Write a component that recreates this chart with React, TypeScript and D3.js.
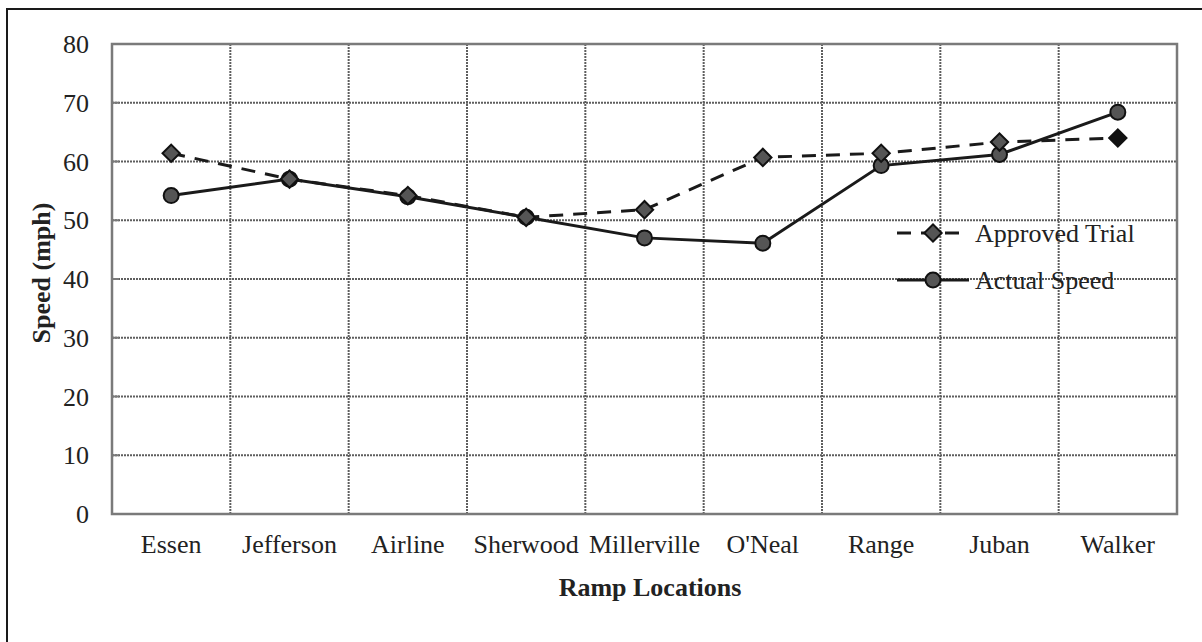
import React, { useRef, useEffect } from 'react';
import * as d3 from 'd3';

const locations = ['Essen', 'Jefferson', 'Airline', 'Sherwood', 'Millerville', "O'Neal", 'Range', 'Juban', 'Walker'];
const approvedTrial = [61.4, 57, 54.2, 50.5, 51.8, 60.7, 61.4, 63.3, 64.0];
const actualSpeed = [54.2, 57, 54, 50.5, 47, 46.1, 59.3, 61.2, 68.4];
const yTicks = [0, 10, 20, 30, 40, 50, 60, 70, 80];

const App: React.FC = () => {
  const svgRef = useRef<SVGSVGElement>(null);

  useEffect(() => {
    if (!svgRef.current) return;
    const width = 1202;
    const height = 642;
    const margin = { top: 44, right: 25, bottom: 128, left: 112 };
    const innerWidth = width - margin.left - margin.right;
    const innerHeight = height - margin.top - margin.bottom;
    const font = '"Liberation Serif", "Times New Roman", serif';
    const fs = 26;

    d3.select(svgRef.current).selectAll('*').remove();
    const root = d3.select(svgRef.current)
      .attr('width', width)
      .attr('height', height)
      .style('position', 'absolute')
      .style('left', '0px')
      .style('top', '0px')
      .style('font-family', font);

    root.append('rect').attr('width', width).attr('height', height).attr('fill', '#fff');

    // outer frame (only top and left edges visible)
    root.append('path')
      .attr('d', `M7,${height} L7,9 L${width},9`)
      .attr('fill', 'none')
      .attr('stroke', '#1a1a1a')
      .attr('stroke-width', 2);

    const svg = root.append('g').attr('transform', `translate(${margin.left},${margin.top})`);

    const x = d3.scaleBand().domain(locations).range([0, innerWidth]);
    const y = d3.scaleLinear().domain([0, 80]).range([innerHeight, 0]);
    const cx = (d: string) => (x(d) ?? 0) + x.bandwidth() / 2;

    // gridlines
    svg.append('g').selectAll('line.h')
      .data(yTicks.filter(t => t > 0 && t < 80))
      .enter().append('line')
      .attr('x1', 0).attr('x2', innerWidth)
      .attr('y1', d => y(d)).attr('y2', d => y(d))
      .attr('stroke', '#5e5e5e').attr('stroke-width', 2).attr('stroke-dasharray', '2,1');

    svg.append('g').selectAll('line.v')
      .data(locations.slice(1))
      .enter().append('line')
      .attr('x1', d => x(d)!).attr('x2', d => x(d)!)
      .attr('y1', 0).attr('y2', innerHeight)
      .attr('stroke', '#5e5e5e').attr('stroke-width', 2).attr('stroke-dasharray', '2,1');

    // plot border
    svg.append('rect')
      .attr('width', innerWidth).attr('height', innerHeight)
      .attr('fill', 'none').attr('stroke', '#7a7a7a').attr('stroke-width', 2.5);

    // y ticks
    svg.append('g').selectAll('line.yt')
      .data(yTicks)
      .enter().append('line')
      .attr('x1', 0).attr('x2', 7)
      .attr('y1', d => y(d)).attr('y2', d => y(d))
      .attr('stroke', '#7a7a7a').attr('stroke-width', 2);

    svg.append('g').selectAll('text.yl')
      .data(yTicks)
      .enter().append('text')
      .attr('x', -23).attr('y', d => y(d))
      .attr('dy', '0.35em')
      .attr('text-anchor', 'end')
      .attr('font-size', fs)
      .attr('fill', '#222')
      .text(d => d);

    svg.append('g').selectAll('text.xl')
      .data(locations)
      .enter().append('text')
      .attr('x', d => cx(d)).attr('y', innerHeight + 39)
      .attr('text-anchor', 'middle')
      .attr('font-size', fs)
      .attr('fill', '#222')
      .text(d => d);

    svg.append('text')
      .attr('x', 650 - margin.left).attr('y', innerHeight + 82)
      .attr('text-anchor', 'middle')
      .attr('font-size', fs).attr('font-weight', 'bold')
      .attr('fill', '#222')
      .text('Ramp Locations');

    svg.append('text')
      .attr('transform', `translate(${50 - margin.left},${273 - margin.top}) rotate(-90)`)
      .attr('text-anchor', 'middle')
      .attr('font-size', fs).attr('font-weight', 'bold')
      .attr('fill', '#222')
      .text('Speed (mph)');

    const line = d3.line<number>()
      .x((_, i) => cx(locations[i]))
      .y(d => y(d));

    const diamond = d3.symbol().type(d3.symbolSquare).size(150);

    // actual speed
    svg.append('path').datum(actualSpeed)
      .attr('d', line)
      .attr('fill', 'none').attr('stroke', '#1a1a1a').attr('stroke-width', 3);

    // approved trial
    svg.append('path').datum(approvedTrial)
      .attr('d', line)
      .attr('fill', 'none').attr('stroke', '#1a1a1a').attr('stroke-width', 3)
      .attr('stroke-dasharray', '14,10');

    svg.append('g').selectAll('circle')
      .data(actualSpeed)
      .enter().append('circle')
      .attr('cx', (_, i) => cx(locations[i]))
      .attr('cy', d => y(d))
      .attr('r', 7.5)
      .attr('fill', '#555').attr('stroke', '#111').attr('stroke-width', 2);

    svg.append('g').selectAll('path.dm')
      .data(approvedTrial)
      .enter().append('path')
      .attr('d', diamond)
      .attr('transform', (d, i) => `translate(${cx(locations[i])},${y(d)}) rotate(45)`)
      .attr('fill', (_, i) => i === approvedTrial.length - 1 ? '#111' : '#555')
      .attr('stroke', '#111').attr('stroke-width', 2);

    // legend
    const lg = svg.append('g').attr('transform', `translate(${897 - margin.left},0)`);
    const legendItems = [
      { name: 'Approved Trial', dash: '14,10', shape: 'diamond', yy: 233 - margin.top },
      { name: 'Actual Speed', dash: null, shape: 'circle', yy: 280 - margin.top }
    ];
    legendItems.forEach(it => {
      lg.append('line')
        .attr('x1', 0).attr('x2', 72)
        .attr('y1', it.yy).attr('y2', it.yy)
        .attr('stroke', '#1a1a1a').attr('stroke-width', 3)
        .attr('stroke-dasharray', it.dash ?? null);
      if (it.shape === 'diamond') {
        lg.append('path')
          .attr('d', diamond)
          .attr('transform', `translate(36,${it.yy}) rotate(45)`)
          .attr('fill', '#555').attr('stroke', '#111').attr('stroke-width', 2);
      } else {
        lg.append('circle')
          .attr('cx', 36).attr('cy', it.yy).attr('r', 7.5)
          .attr('fill', '#555').attr('stroke', '#111').attr('stroke-width', 2);
      }
      lg.append('text')
        .attr('x', 78).attr('y', it.yy)
        .attr('dy', '0.35em')
        .attr('font-size', fs)
        .attr('fill', '#222')
        .text(it.name);
    });
  }, []);

  return <svg ref={svgRef}></svg>;
};

export default App;
